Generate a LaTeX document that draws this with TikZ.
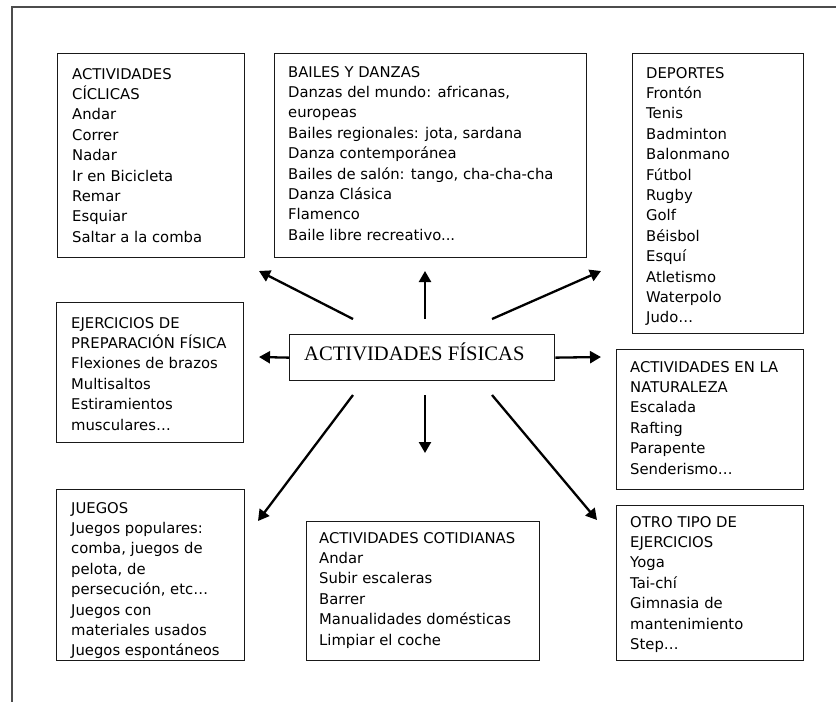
\documentclass[tikz,border=0pt]{standalone}
\usepackage{fontspec}
\setmainfont{DejaVu Sans}
\newfontfamily\timesf{Liberation Serif}
\usetikzlibrary{arrows.meta,calc}
\begin{document}
\begin{tikzpicture}[x=1pt,y=-1pt,
  box/.style={draw=black!90, line width=1.3pt, anchor=north west, inner sep=0pt},
  txt/.style={anchor=base west, inner sep=0pt, font=\fontsize{14.8pt}{20.4pt}\selectfont},
  arr/.style={line width=2.3pt, -{Triangle[length=11pt,width=12pt]}},
  frame/.style={draw=black!70, line width=1.4pt}]
\useasboundingbox (0,0) rectangle (836,702);
\draw[frame] (836,7) -- (12,7) -- (12,702);

% boxes
\node[box, minimum width=187pt, minimum height=204pt] (b1) at (57,53) {};
\node[box, minimum width=312pt, minimum height=204pt] (b2) at (274,53) {};
\node[box, minimum width=171pt, minimum height=280pt] (b3) at (632,53) {};
\node[box, minimum width=187pt, minimum height=140pt] (b4) at (56,302) {};
\node[box, minimum width=188pt, minimum height=171pt] (b5) at (56,489) {};
\node[box, minimum width=233pt, minimum height=139pt] (b6) at (306,521) {};
\node[box, minimum width=187pt, minimum height=140pt] (b7) at (616,349) {};
\node[box, minimum width=187pt, minimum height=155pt] (b8) at (616,505) {};
\node[box, minimum width=265pt, minimum height=46pt] (c) at (289,334) {};

% texts
\node[txt] (t1) at ($(b1.north west)+(15,26)$) {\parbox[t]{320pt}{ACTIVIDADES\\CÍCLICAS\\Andar\\Correr\\Nadar\\Ir en Bicicleta\\Remar\\Esquiar\\Saltar a la comba}};
\node[txt] (t2) at ($(b2.north west)+(14,24)$) {\parbox[t]{320pt}{BAILES Y DANZAS\\Danzas del mundo: africanas,\\europeas\\Bailes regionales: jota, sardana\\Danza contemporánea\\Bailes de salón: tango, cha-cha-cha\\Danza Clásica\\Flamenco\\Baile libre recreativo...}};
\node[txt] (t3) at ($(b3.north west)+(14,25)$) {\parbox[t]{320pt}{DEPORTES\\Frontón\\Tenis\\Badminton\\Balonmano\\Fútbol\\Rugby\\Golf\\Béisbol\\Esquí\\Atletismo\\Waterpolo\\Judo…}};
\node[txt] (t4) at ($(b4.north west)+(15,26)$) {\parbox[t]{320pt}{EJERCICIOS DE\\PREPARACIÓN FÍSICA\\Flexiones de brazos\\Multisaltos\\Estiramientos\\musculares…}};
\node[txt] (t5) at ($(b5.north west)+(15,24)$) {\parbox[t]{320pt}{JUEGOS\\Juegos populares:\\comba, juegos de\\pelota, de\\persecución, etc…\\Juegos con\\materiales usados\\Juegos espontáneos}};
\node[txt] (t6) at ($(b6.north west)+(13,22)$) {\parbox[t]{320pt}{ACTIVIDADES COTIDIANAS\\Andar\\Subir escaleras\\Barrer\\Manualidades domésticas\\Limpiar el coche}};
\node[txt] (t7) at ($(b7.north west)+(14,23)$) {\parbox[t]{320pt}{ACTIVIDADES EN LA\\NATURALEZA\\Escalada\\Rafting\\Parapente\\Senderismo…}};
\node[txt] (t8) at ($(b8.north west)+(14,22)$) {\parbox[t]{320pt}{OTRO TIPO DE\\EJERCICIOS\\Yoga\\Tai-chí\\Gimnasia de\\mantenimiento\\Step…}};
\node[anchor=base west, inner sep=0pt, font=\timesf\fontsize{20.6pt}{24pt}\selectfont] (ct) at (304,360) {ACTIVIDADES FÍSICAS};

% arrow ends
\coordinate (s1) at (353,319); \coordinate (e1) at (259,271);
\coordinate (s2) at (425,319); \coordinate (e2) at (425,271);
\coordinate (s3) at (492,319); \coordinate (e3) at (601,271);
\coordinate (e4) at (259,357);
\coordinate (e5) at (601,357);
\coordinate (s6) at (353,395); \coordinate (e6) at (258,521);
\coordinate (s7) at (425,395); \coordinate (e7) at (425,453);
\coordinate (s8) at (492,395); \coordinate (e8) at (597,520);

\draw[arr] (s1) -- (e1);
\draw[arr] (s2) -- (e2);
\draw[arr] (s3) -- (e3);
\draw[arr] (c.west) -- (e4);
\draw[arr] (c.east) -- (e5);
\draw[arr] (s6) -- (e6);
\draw[arr] (s7) -- (e7);
\draw[arr] (s8) -- (e8);
\end{tikzpicture}
\end{document}
